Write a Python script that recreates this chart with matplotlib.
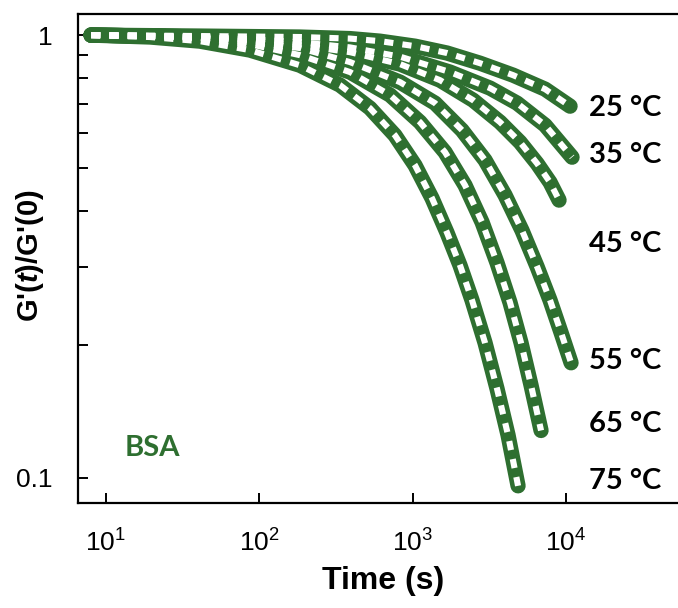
import matplotlib
matplotlib.use('Agg')
import matplotlib.pyplot as plt

# Stress relaxation, BSA
t25 = [8, 41, 184, 391, 612, 1037, 1676, 2752, 4519, 7310, 10640]
g25 = [1, 0.995, 0.990, 0.982, 0.969, 0.944, 0.911, 0.864, 0.812, 0.755, 0.691]

t35 = [8, 19.4, 41, 86.9, 184, 391, 828, 1754, 3200, 4800, 7310, 10960]
g35 = [1, 0.995, 0.990, 0.979, 0.964, 0.938, 0.894, 0.825, 0.759, 0.702, 0.626, 0.530]

t45 = [8, 19.4, 41, 86.9, 184, 391, 828, 1510, 2478, 3715, 5019, 6483, 7875, 9017]
g45 = [1, 0.995, 0.990, 0.974, 0.949, 0.915, 0.860, 0.791, 0.713, 0.636, 0.573, 0.513, 0.465, 0.424]

t55 = [8, 19.4, 41, 86.9, 184, 391, 828, 1400, 2099, 2966, 4008, 5173, 6483, 7875, 9290, 10800]
g55 = [1, 0.995, 0.985, 0.964, 0.935, 0.869, 0.783, 0.702, 0.610, 0.522, 0.435, 0.362, 0.300, 0.252, 0.213, 0.182]

t65 = [8, 19.4, 41, 86.9, 184, 391, 713, 1117, 1627, 2197, 2838, 3553, 4317, 5093, 5918, 6880]
g65 = [1, 0.995, 0.985, 0.954, 0.901, 0.825, 0.732, 0.636, 0.544, 0.458, 0.378, 0.306, 0.249, 0.202, 0.162, 0.128]

t75 = [8, 19.4, 41, 86.9, 184, 336, 527, 767, 1037, 1339, 1676, 2038, 2440, 2966, 3553, 4191, 4872]
g75 = [1, 0.990, 0.969, 0.925, 0.855, 0.771, 0.684, 0.594, 0.508, 0.428, 0.358, 0.302, 0.252, 0.202, 0.159, 0.125, 0.096]

curves = [(t25, g25), (t35, g35), (t45, g45), (t55, g55), (t65, g65), (t75, g75)]
labels = ['25 °C', '35 °C', '45 °C', '55 °C', '65 °C', '75 °C']
label_y = [0.684, 0.535, 0.338, 0.184, 0.1324, 0.0985]
label_x = 14200
#-------------------------------
green = '#2e6f30'
plt.rcParams['font.family'] = ['Liberation Sans Narrow', 'Liberation Sans', 'DejaVu Sans']
plt.rcParams['mathtext.fontset'] = 'custom'
plt.rcParams['mathtext.rm'] = 'Liberation Sans Narrow'
plt.rcParams['mathtext.it'] = 'Liberation Sans:italic:bold'

fig = plt.figure(figsize=(6.78, 6.08), dpi=100)
ax = fig.add_axes([0.115, 0.1727, 0.885, 0.8043])

# thick green lines first, then white dashes on top
for t, g in curves:
    ax.plot(t, g, color=green, lw=11, solid_capstyle='round', solid_joinstyle='round')
for t, g in curves:
    ax.plot(t, g, color='white', lw=4.4, dashes=(1.5, 1.5), dash_capstyle='butt')

ax.set_xscale('log')
ax.set_yscale('log')
ax.set_xlim(6.57, 53800)
ax.set_ylim(0.0878, 1.116)

ax.spines['right'].set_visible(False)
for s in ['left', 'bottom', 'top']:
    ax.spines[s].set_linewidth(1.6)

ax.set_yticks([0.1, 1])
ax.set_yticklabels(['0.1', '1'])
ax.set_yticks([0.2, 0.3, 0.4, 0.5, 0.6, 0.7, 0.8, 0.9], minor=True)
ax.yaxis.set_minor_formatter(matplotlib.ticker.NullFormatter())
ax.set_xticks([10, 100, 1000, 10000])
ax.xaxis.set_minor_locator(matplotlib.ticker.NullLocator())
ax.tick_params(which='both', direction='in', length=7, width=1.4, labelsize=19)
ax.tick_params(axis='y', pad=18)
ax.tick_params(axis='x', pad=19)

for lab, y in zip(labels, label_y):
    ax.text(label_x, y, lab, fontsize=21, fontweight='bold', family='Lato',
            va='center', ha='left')
ax.text(13.3, 0.117, 'BSA', fontsize=21, fontweight='bold', family='Lato',
        color=green, va='center', ha='left')

ax.set_xlabel('Time (s)', fontsize=23, fontweight='bold', family='Liberation Sans')
ax.xaxis.set_label_coords(0.508, -0.128)
ax.set_ylabel(r"G'($\mathit{t}$)/G'(0)", fontsize=21, fontweight='bold', family='Liberation Sans')
ax.yaxis.set_label_coords(-0.053, 0.505)

fig.savefig('out.png', dpi=100)
